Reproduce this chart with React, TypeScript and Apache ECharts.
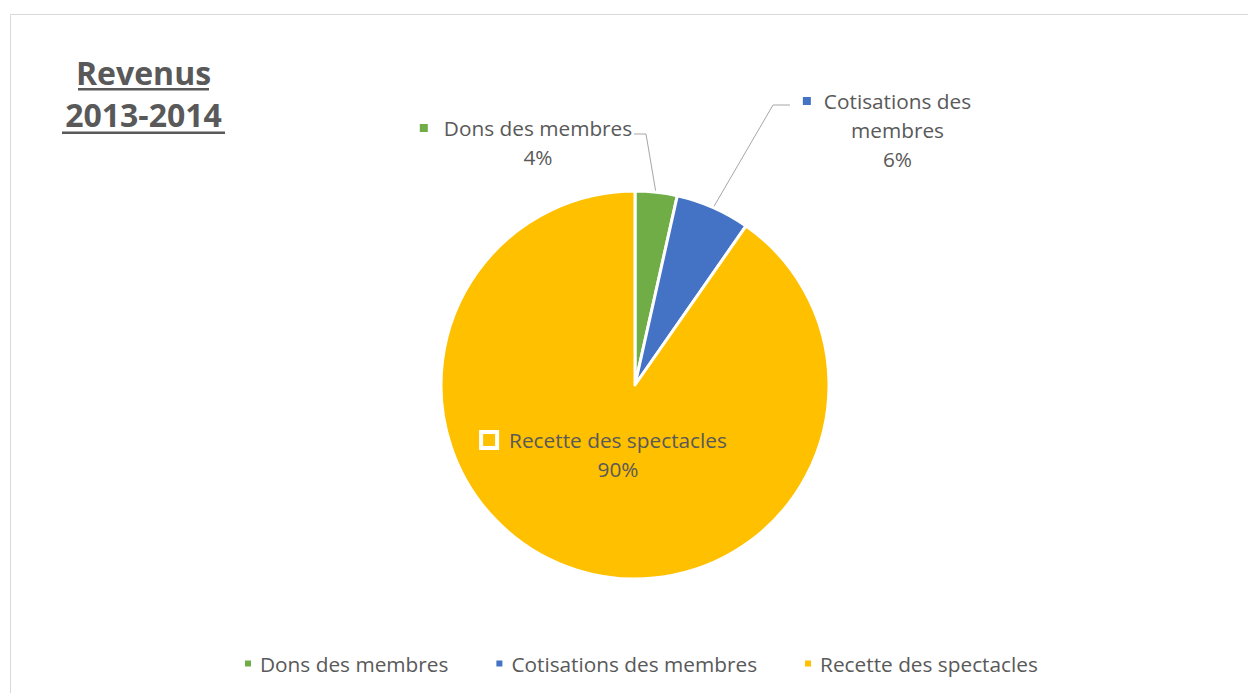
import React, { useEffect, useRef } from 'react';
import * as echarts from 'echarts';

const categories = ['Dons des membres', 'Cotisations des membres', 'Recette des spectacles'];
const values = [3.5, 6.2, 90.3];
const colors = ['#70AD47', '#4472C4', '#FFC000'];
const titleLines = ['Revenus', '2013-2014'];
const labelLines = [['Dons des membres'], ['Cotisations des', 'membres'], ['Recette des spectacles']];

const FONT = '"Open Sans", sans-serif';
const TEXT = '#595959';
const CX = 635;
const CY = 385;
const R = 194;

export default function App() {
  const ref = useRef<HTMLDivElement>(null);
  useEffect(() => {
    const chart = echarts.init(ref.current!, null, { renderer: 'svg' });
    const total = values.reduce((a, b) => a + b, 0);
    const data = categories.map((name, i) => {
      const pct = Math.round((values[i] / total) * 100) + '%';
      const inside = i === 2;
      const lines = labelLines[i];
      const txt =
        `{m${i}| }{n${i}|${lines[0]}}` +
        lines.slice(1).map((l) => `\n{p${i}|${l}}`).join('') +
        `\n{p${i}|${pct}}`;
      return {
        name,
        value: values[i],
        itemStyle: { color: colors[i] },
        label: { position: inside ? 'inside' : 'outside', formatter: txt },
        labelLine: { show: !inside },
      };
    });
    const edgePoint = (i: number) => {
      let cum = 0;
      for (let k = 0; k < i; k++) cum += values[k];
      const a = ((cum + values[i] / 2) / total) * Math.PI * 2;
      const r = R - 1.5;
      return [CX + r * Math.sin(a), CY - r * Math.cos(a)];
    };
    const base = { fontFamily: FONT, fontSize: 20.8, color: TEXT, lineHeight: 29 };
    const rich: any = {
      m0: { width: 8, height: 8, backgroundColor: colors[0] },
      m1: { width: 8, height: 8, backgroundColor: colors[1] },
      m2: { width: 12, height: 12, backgroundColor: colors[2], borderColor: '#ffffff', borderWidth: 4 },
      n0: { ...base, padding: [0, 0, 0, 16] },
      n1: { ...base, padding: [0, 0, 0, 13] },
      n2: { ...base, padding: [0, 0, 0, 14] },
      p0: { ...base, padding: [0, 0, 0, 24] },
      p1: { ...base, padding: [0, 0, 0, 21] },
      p2: { ...base, padding: [0, 0, 0, 26] },
    };
    chart.setOption({
      animation: false,
      backgroundColor: '#ffffff',
      graphic: [
        { type: 'rect', shape: { x: 10.5, y: 14.5, width: 1400, height: 800 }, style: { fill: 'none', stroke: '#d9d9d9', lineWidth: 1 }, silent: true },
        { type: 'text', x: 143.5, y: 72, style: { text: titleLines[0], font: `bold 32px ${FONT}`, fill: TEXT, align: 'center', verticalAlign: 'middle' } },
        { type: 'text', x: 143.5, y: 114, style: { text: titleLines[1], font: `bold 32px ${FONT}`, fill: TEXT, align: 'center', verticalAlign: 'middle' } },
        { type: 'rect', shape: { x: 78, y: 88, width: 131, height: 2.5 }, style: { fill: TEXT } },
        { type: 'rect', shape: { x: 62, y: 131.5, width: 163, height: 2.5 }, style: { fill: TEXT } },
      ],
      legend: {
        left: 243,
        top: 653,
        padding: 0,
        icon: 'rect',
        itemWidth: 8,
        itemHeight: 8,
        itemGap: 46,
        data: categories,
        textStyle: { fontFamily: FONT, fontSize: 20.8, color: TEXT, padding: [0, 0, 0, 3] },
      },
      series: [
        {
          type: 'pie',
          center: [CX, CY],
          radius: R,
          startAngle: 90,
          clockwise: true,
          itemStyle: { borderColor: '#ffffff', borderWidth: 3 },
          label: { show: true, rich, fontFamily: FONT, fontSize: 20.8, color: TEXT },
          labelLine: { show: true, lineStyle: { color: '#a6a6a6', width: 1 } },
          emphasis: { disabled: true },
          labelLayout: (p: any) => {
            const i = p.dataIndex;
            if (i === 0) {
              return { x: 526, y: 113.5, align: 'center', verticalAlign: 'top', labelLinePoints: [edgePoint(0), [646, 134], [634, 134]] };
            }
            if (i === 1) {
              return { x: 887, y: 86.5, align: 'center', verticalAlign: 'top', labelLinePoints: [edgePoint(1), [773, 105], [790, 105]] };
            }
            return { x: 605, y: 425.5, align: 'center', verticalAlign: 'top' };
          },
          data,
        },
      ],
    });
    return () => chart.dispose();
  }, []);
  return <div ref={ref} style={{ position: 'absolute', left: 0, top: 0, width: 1248, height: 693 }} />;
}
